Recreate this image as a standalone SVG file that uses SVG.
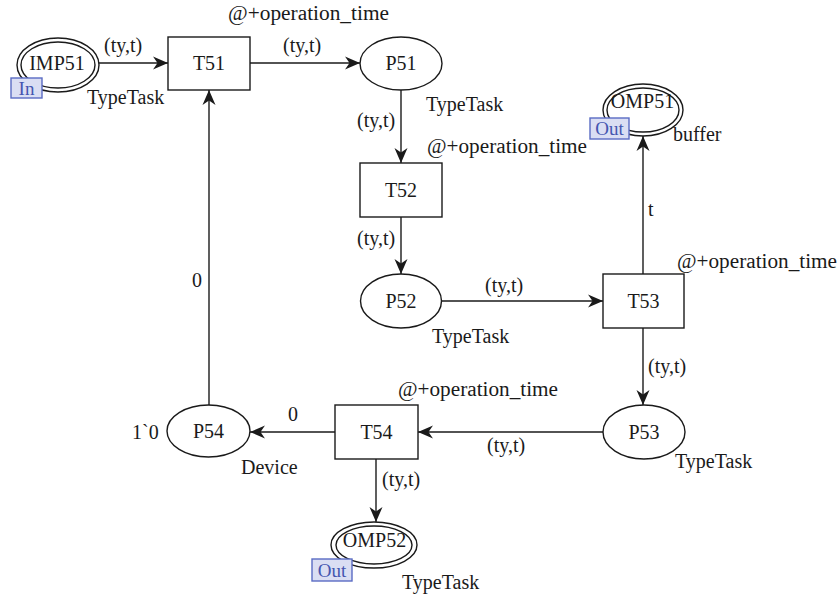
<svg xmlns="http://www.w3.org/2000/svg" width="839" height="597" viewBox="0 0 839 597">
<style>
text{font-family:"Liberation Serif","Times New Roman",serif;font-size:20px;fill:#1a1a1a}
.n{text-anchor:middle}
.sh{fill:#fff;stroke:#1a1a1a;stroke-width:1.4}
.dbl{fill:none;stroke:#1a1a1a;stroke-width:1.4}
.tag{fill:#dadef3;stroke:#5a6cc4;stroke-width:1.4}
.tagt{fill:#4455b0;font-size:19px;text-anchor:middle}
.e{fill:none;stroke:#1a1a1a;stroke-width:1.4;marker-end:url(#ah)}
</style>
<defs>
<marker id="ah" markerUnits="userSpaceOnUse" markerWidth="16" markerHeight="14" viewBox="0 -7 16 14" refX="15" refY="0" orient="auto">
<path d="M0,-6.5 L15,0 L0,6.5 L4.5,0 z" fill="#1a1a1a"/>
</marker>
</defs>
<rect width="839" height="597" fill="#fff"/>
<g id="connectors">
<path class="e" d="M99,63 H168"/>
<path class="e" d="M250,63 H360"/>
<path class="e" d="M401,90 V163"/>
<path class="e" d="M401,217 V274"/>
<path class="e" d="M442,301 H603"/>
<path class="e" d="M643,274 V136"/>
<path class="e" d="M643,328 V405"/>
<path class="e" d="M603,432 H418"/>
<path class="e" d="M335,432 H250"/>
<path class="e" d="M209,405 V90"/>
<path class="e" d="M376,459 V522"/>
<text x="104" y="52">(ty,t)</text>
<text x="283" y="52">(ty,t)</text>
<text x="357" y="127">(ty,t)</text>
<text x="357" y="245">(ty,t)</text>
<text x="485" y="292">(ty,t)</text>
<text x="648" y="216">t</text>
<text x="648" y="373">(ty,t)</text>
<text x="487" y="452">(ty,t)</text>
<text x="288" y="421">0</text>
<text x="192" y="287">0</text>
<text x="382" y="486">(ty,t)</text>
</g>
<g id="IMP51">
<ellipse class="dbl" cx="58" cy="65" rx="41" ry="27"/>
<ellipse class="dbl" cx="58" cy="65" rx="37" ry="23"/>
<text class="n" x="57" y="70">IMP51</text>
<rect class="tag" x="11" y="78" width="31" height="20"/>
<text class="tagt" x="26.5" y="95">In</text>
<text x="87" y="104">TypeTask</text>
</g>
<g id="T51">
<rect class="sh" x="168" y="37" width="82" height="53"/>
<text class="n" x="209" y="70">T51</text>
<text x="228" y="20" textLength="161" lengthAdjust="spacingAndGlyphs">@+operation_time</text>
</g>
<g id="P51">
<ellipse class="sh" cx="401" cy="63.5" rx="41" ry="26.5"/>
<text class="n" x="401" y="70">P51</text>
<text x="426" y="111">TypeTask</text>
</g>
<g id="T52">
<rect class="sh" x="360" y="163" width="82" height="54"/>
<text class="n" x="401" y="197">T52</text>
<text x="427" y="153" textLength="160" lengthAdjust="spacingAndGlyphs">@+operation_time</text>
</g>
<g id="P52">
<ellipse class="sh" cx="401" cy="301" rx="40.5" ry="27"/>
<text class="n" x="401" y="308">P52</text>
<text x="432" y="343">TypeTask</text>
</g>
<g id="T53">
<rect class="sh" x="603" y="274" width="81" height="54"/>
<text class="n" x="643.5" y="308">T53</text>
<text x="677" y="268" textLength="160" lengthAdjust="spacingAndGlyphs">@+operation_time</text>
</g>
<g id="OMP51">
<ellipse class="dbl" cx="643" cy="110" rx="40" ry="26"/>
<ellipse class="dbl" cx="643" cy="110" rx="36" ry="22"/>
<text class="n" x="642.5" y="108">OMP51</text>
<rect class="tag" x="590" y="118" width="39" height="21"/>
<text class="tagt" x="609.5" y="135">Out</text>
<text x="673" y="141">buffer</text>
</g>
<g id="P53">
<ellipse class="sh" cx="644" cy="432" rx="41" ry="27"/>
<text class="n" x="644" y="439">P53</text>
<text x="675" y="468">TypeTask</text>
</g>
<g id="T54">
<rect class="sh" x="335" y="405" width="83" height="54"/>
<text class="n" x="376.5" y="439">T54</text>
<text x="398" y="396" textLength="160" lengthAdjust="spacingAndGlyphs">@+operation_time</text>
</g>
<g id="P54">
<ellipse class="sh" cx="208.5" cy="431" rx="41.5" ry="26"/>
<text class="n" x="208.5" y="438">P54</text>
<text x="132" y="439">1`0</text>
<text x="241" y="474">Device</text>
</g>
<g id="OMP52">
<ellipse class="dbl" cx="374" cy="545" rx="43" ry="23"/>
<ellipse class="dbl" cx="374" cy="545" rx="38" ry="19"/>
<text class="n" x="374.5" y="547">OMP52</text>
<rect class="tag" x="312" y="559" width="40" height="22"/>
<text class="tagt" x="332" y="577">Out</text>
<text x="402" y="589">TypeTask</text>
</g>
</svg>
